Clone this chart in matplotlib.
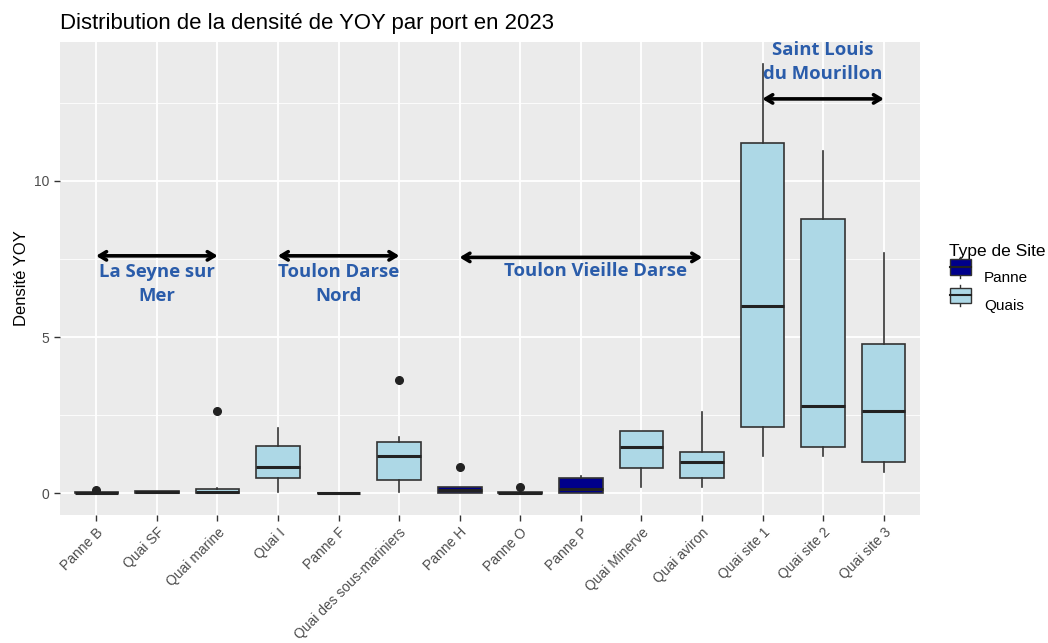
import matplotlib
matplotlib.use('Agg')
import matplotlib.pyplot as plt
from matplotlib.legend_handler import HandlerBase
from matplotlib.patches import Rectangle
from matplotlib.lines import Line2D

sites = ['Panne B', 'Quai SF', 'Quai marine', 'Quai I', 'Panne F',
         'Quai des sous-mariniers', 'Panne H', 'Panne O', 'Panne P',
         'Quai Minerve', 'Quai aviron', 'Quai site 1', 'Quai site 2', 'Quai site 3']
site_type = ['Panne', 'Quais', 'Quais', 'Quais', 'Panne', 'Quais', 'Panne',
             'Panne', 'Panne', 'Quais', 'Quais', 'Quais', 'Quais', 'Quais']

whislo = [0, 0, 0, 0.03, 0, 0.03, 0, 0, 0, 0.22, 0.22, 1.21, 1.21, 0.67]
q1 = [0, 0, 0, 0.48, 0, 0.42, 0, 0, 0, 0.80, 0.48, 2.14, 1.50, 0.99]
med = [0.02, 0.03, 0.05, 0.83, 0.01, 1.21, 0.10, 0.02, 0.15, 1.50, 1.02, 6.00, 2.81, 2.65]
q3 = [0.05, 0.07, 0.15, 1.53, 0.02, 1.66, 0.22, 0.06, 0.48, 2.01, 1.34, 11.20, 8.79, 4.79]
whishi = [0.05, 0.07, 0.18, 2.08, 0.02, 1.82, 0.22, 0.06, 0.55, 2.01, 2.62, 13.75, 10.96, 7.70]
outliers = [[0.10], [], [2.65], [], [], [3.62], [0.86], [0.20], [], [], [], [], [], []]

# port groups: (label, first site, last site, arrow y, text x, text y)
groups = [('La Seyne sur\nMer', 0, 2, 7.6, 1.0, 6.7),
          ('Toulon Darse\nNord', 3, 5, 7.6, 4.0, 6.7),
          ('Toulon Vieille Darse', 6, 10, 7.55, 8.25, 7.1),
          ('Saint Louis\ndu Mourillon', 11, 13, 12.62, 12.0, 13.8)]

fill = {'Panne': '#00008B', 'Quais': '#ADD8E6'}
edge = '#333333'

plt.rcParams['font.family'] = ['Liberation Sans', 'DejaVu Sans']

fig = plt.figure(figsize=(10.48, 6.43), dpi=100)
ax = fig.add_axes([60 / 1048, 1 - 515 / 643, 860 / 1048, (515 - 42) / 643])

stats = []
for i in range(len(sites)):
    stats.append({'whislo': whislo[i], 'q1': q1[i], 'med': med[i], 'q3': q3[i],
                  'whishi': whishi[i], 'fliers': outliers[i]})

bp = ax.bxp(stats, positions=range(len(sites)), widths=0.72, patch_artist=True,
            showcaps=False,
            boxprops=dict(edgecolor=edge, linewidth=1.2),
            whiskerprops=dict(color=edge, linewidth=1.2),
            medianprops=dict(color='#222222', linewidth=2.2),
            flierprops=dict(marker='o', markerfacecolor='#222222',
                            markeredgecolor='#222222', markersize=5.5))
for patch, t in zip(bp['boxes'], site_type):
    patch.set_facecolor(fill[t])

ax.set_xlim(-0.6, len(sites) - 0.4)
ax.set_ylim(-0.69, 14.44)
ax.set_facecolor('#EBEBEB')
ax.set_yticks([0, 5, 10])
ax.set_yticks([2.5, 7.5, 12.5], minor=True)
ax.set_xticks(range(len(sites)))
ax.set_xticklabels(sites, rotation=45, ha='right', rotation_mode='anchor')
ax.grid(True, which='major', color='white', linewidth=1.3)
ax.grid(True, which='minor', axis='y', color='white', linewidth=0.6)
ax.set_axisbelow(True)
for s in ax.spines.values():
    s.set_visible(False)
ax.tick_params(which='major', colors='#333333', labelcolor='#4D4D4D',
               labelsize=10, length=4, width=1)
ax.tick_params(which='minor', length=0)

ax.set_ylabel('Densité YOY', fontsize=12, color='black')
ax.set_title('Distribution de la densité de YOY par port en 2023',
             loc='left', fontsize=15.9, pad=9)

for label, a, b, ya, xt, yt in groups:
    ax.annotate('', xy=(a - 0.05, ya), xytext=(b + 0.05, ya),
                arrowprops=dict(arrowstyle='<->,head_length=0.5,head_width=0.3',
                                color='black', lw=2.6))
    ax.text(xt, yt, label, ha='center', va='center', color='#2A5CAA',
            fontsize=13.3, fontweight='bold', family='Open Sans',
            linespacing=1.4)


class BoxKey(HandlerBase):
    def create_artists(self, legend, orig, xd, yd, w, h, fs, trans):
        c = orig.get_facecolor()
        r = Rectangle((xd + 0.05 * w, yd + 0.1 * h), 0.9 * w, 0.8 * h,
                      facecolor=c, edgecolor=edge, linewidth=1, transform=trans)
        m = Line2D([xd + 0.05 * w, xd + 0.95 * w], [yd + 0.5 * h, yd + 0.5 * h],
                   color='#222222', linewidth=1.5, transform=trans)
        wl = Line2D([xd + 0.5 * w, xd + 0.5 * w], [yd - 0.05 * h, yd + 1.05 * h],
                    color=edge, linewidth=1, transform=trans)
        return [wl, r, m]


handles = [Rectangle((0, 0), 1, 1, facecolor=fill['Panne']),
           Rectangle((0, 0), 1, 1, facecolor=fill['Quais'])]
leg = fig.legend(handles, ['Panne', 'Quais'], title='Type de Site',
                 loc='upper left', bbox_to_anchor=(935 / 1048, 1 - 230 / 643),
                 frameon=False, fontsize=11, title_fontsize=12.5,
                 handler_map={Rectangle: BoxKey()},
                 handlelength=1.5, handleheight=1.6, labelspacing=0.55,
                 handletextpad=0.8)
leg._legend_box.align = 'left'

fig.savefig('out.png', dpi=100)
